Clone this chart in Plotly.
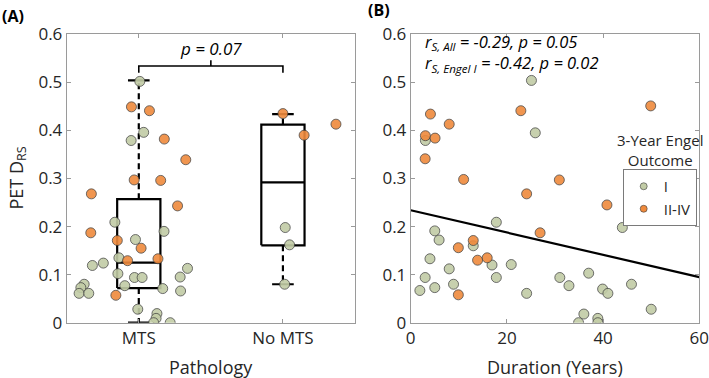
import plotly.graph_objects as go
import numpy as np

# ---------------- Data ----------------
# Panel A: jittered category positions (1 = MTS, 2 = No MTS) and PET D_RS values
a_green_x = [1.007, 1.034, 0.947, 0.834, 1.175, 0.977, 0.862, 0.855, 0.970, 1.023, 0.903, 1.166,
             0.754, 0.678, 0.621, 0.598, 0.586, 0.653, 0.993, 1.126, 1.120, 1.103, 1.218, 1.287,
             1.338, 1.290,
             2.016, 2.046, 2.012]
a_green_y = [0.502, 0.396, 0.379, 0.209, 0.190, 0.173, 0.135, 0.102, 0.094, 0.094, 0.077, 0.071,
             0.124, 0.119, 0.080, 0.073, 0.061, 0.061, 0.028, 0.019, 0.009, 0.0, 0.0, 0.095,
             0.113, 0.066,
             0.198, 0.162, 0.080]
a_orange_x = [0.949, 1.074, 1.177, 1.326, 0.968, 1.152, 0.671, 1.269, 0.667, 0.851, 1.016, 0.922,
              1.133, 0.841,
              2.000, 2.147, 2.368]
a_orange_y = [0.449, 0.441, 0.382, 0.339, 0.297, 0.296, 0.268, 0.243, 0.187, 0.171, 0.155, 0.129,
              0.133, 0.057,
              0.435, 0.390, 0.413]

# Box statistics per category
box_pos = [1, 2]
box_labels = ["MTS", "No MTS"]
box_q1 = [0.072, 0.161]
box_med = [0.125, 0.292]
box_q3 = [0.257, 0.412]
box_lo = [0.0, 0.080]
box_hi = [0.504, 0.434]

# Significance bracket
bracket_text = "p = 0.07"
bracket_y = 0.534

# Panel B: duration (years) vs PET D_RS
b_green_x = [25.1, 25.9, 3.05, 17.8, 5.0, 5.9, 13.0, 44.0, 4.0, 8.0, 3.0, 5.0, 1.9, 8.9, 16.9,
             17.8, 20.9, 24.1, 31.0, 32.9, 37.0, 39.9, 41.0, 45.9, 50.0, 36.0, 38.9, 34.9, 38.9]
b_green_y = [0.504, 0.395, 0.379, 0.209, 0.191, 0.172, 0.160, 0.198, 0.133, 0.112, 0.094, 0.073,
             0.067, 0.080, 0.120, 0.094, 0.121, 0.061, 0.094, 0.077, 0.103, 0.070, 0.061, 0.080,
             0.028, 0.018, 0.009, 0.0, 0.0]
b_orange_x = [49.9, 22.9, 4.1, 8.0, 3.05, 5.06, 3.0, 11.0, 30.9, 24.1, 40.8, 26.9, 13.0, 9.9,
              13.9, 15.9, 9.9]
b_orange_y = [0.451, 0.441, 0.434, 0.413, 0.389, 0.384, 0.341, 0.298, 0.297, 0.268, 0.245, 0.187,
              0.171, 0.156, 0.130, 0.135, 0.058]

fit_intercept = 0.234
fit_slope = -0.00232
fit_range = [0, 60]

y_ticks = [0, 0.1, 0.2, 0.3, 0.4, 0.5, 0.6]
y_ticklabels = ["0", "0.1", "0.2", "0.3", "0.4", "0.5", "0.6"]
b_x_ticks = [0, 20, 40, 60]

legend_labels = ["I", "II-IV"]

# ---------------- Style ----------------
GREEN = "#c2cca6"
ORANGE = "#ef8a3c"
EDGE = "#3a3a3a"
FONT = "Open Sans"
AX = "#9a9a9a"
TXT = "#262626"

fig = go.Figure()

def marker(color):
    return dict(size=10, color=color, opacity=0.9, line=dict(color=EDGE, width=0.8))

# ---- Panel A: box lines ----
bw = 0.15
cw = 0.075
for i, p in enumerate(box_pos):
    fig.add_trace(go.Scatter(
        x=[p - bw, p + bw, p + bw, p - bw, p - bw],
        y=[box_q1[i], box_q1[i], box_q3[i], box_q3[i], box_q1[i]],
        mode="lines", line=dict(color="black", width=2.2), showlegend=False,
        hoverinfo="skip", xaxis="x", yaxis="y"))
    fig.add_trace(go.Scatter(
        x=[p - bw, p + bw], y=[box_med[i], box_med[i]],
        mode="lines", line=dict(color="black", width=2.2), showlegend=False,
        hoverinfo="skip", xaxis="x", yaxis="y"))
    fig.add_trace(go.Scatter(
        x=[p, p, None, p, p], y=[box_q3[i], box_hi[i], None, box_q1[i], box_lo[i]],
        mode="lines", line=dict(color="black", width=2.2, dash="6px,4px"), showlegend=False,
        hoverinfo="skip", xaxis="x", yaxis="y"))
    fig.add_trace(go.Scatter(
        x=[p - cw, p + cw, None, p - cw, p + cw],
        y=[box_hi[i], box_hi[i], None, box_lo[i], box_lo[i]],
        mode="lines", line=dict(color="black", width=2.2), showlegend=False,
        hoverinfo="skip", xaxis="x", yaxis="y"))

# bracket
mid = (box_pos[0] + box_pos[1]) / 2
fig.add_trace(go.Scatter(
    x=[box_pos[0], box_pos[0], box_pos[1], box_pos[1], None, mid, mid],
    y=[bracket_y - 0.014, bracket_y, bracket_y, bracket_y - 0.014, None,
       bracket_y, bracket_y + 0.012],
    mode="lines", line=dict(color="black", width=1.6), showlegend=False,
    hoverinfo="skip", xaxis="x", yaxis="y"))

# points A
fig.add_trace(go.Scatter(x=a_green_x, y=a_green_y, mode="markers", marker=marker(GREEN),
                         showlegend=False, xaxis="x", yaxis="y"))
fig.add_trace(go.Scatter(x=a_orange_x, y=a_orange_y, mode="markers", marker=marker(ORANGE),
                         showlegend=False, xaxis="x", yaxis="y"))

# ---- Panel B ----
fx = np.array(fit_range, dtype=float)
fig.add_trace(go.Scatter(x=fx, y=fit_intercept + fit_slope * fx, mode="lines",
                         line=dict(color="black", width=2.2), showlegend=False,
                         hoverinfo="skip", xaxis="x2", yaxis="y2"))
fig.add_trace(go.Scatter(x=b_green_x, y=b_green_y, mode="markers", marker=marker(GREEN),
                         showlegend=False, xaxis="x2", yaxis="y2"))
fig.add_trace(go.Scatter(x=b_orange_x, y=b_orange_y, mode="markers", marker=marker(ORANGE),
                         showlegend=False, xaxis="x2", yaxis="y2"))
for lab, col in zip(legend_labels, [GREEN, ORANGE]):
    fig.add_trace(go.Scatter(x=[None], y=[None], mode="markers", name=lab,
                             marker=dict(size=7, color=col, line=dict(color=EDGE, width=0.6)),
                             xaxis="x2", yaxis="y2"))

axis_common = dict(showline=True, linecolor=AX, linewidth=1, mirror="ticks",
                   ticks="inside", ticklen=4, tickcolor=AX, showgrid=False, zeroline=False,
                   automargin=False, ticklabeloverflow="allow",
                   tickfont=dict(family=FONT, size=17, color=TXT))

ydom = [0.1463, 0.9093]
fig.update_layout(
    width=709, height=378, autosize=False,
    margin=dict(l=0, r=0, t=0, b=0, pad=0),
    paper_bgcolor="white", plot_bgcolor="white",
    xaxis=dict(domain=[0.0941, 0.5007], range=[0.5, 2.5], tickvals=box_pos,
               ticktext=box_labels, anchor="y", **axis_common),
    yaxis=dict(domain=ydom, range=[0, 0.6], tickvals=y_ticks, ticktext=y_ticklabels,
               anchor="x", **axis_common),
    xaxis2=dict(domain=[0.5793, 0.9863], range=[0, 60], tickvals=b_x_ticks,
                anchor="y2", **axis_common),
    yaxis2=dict(domain=ydom, range=[0, 0.6], tickvals=y_ticks, ticktext=y_ticklabels,
                anchor="x2", **axis_common),
    legend=dict(x=622.7 / 709, y=(378 - 169) / 378, xanchor="left", yanchor="top",
                bordercolor="#7a7a7a", borderwidth=1, bgcolor="white",
                font=dict(family=FONT, size=15, color=TXT), itemwidth=30,
                tracegroupgap=0),
    showlegend=True,
)

ann = []
ann.append(dict(text="<b>(A)</b>", x=0, y=1 - 16 / 378, xref="paper", yref="paper",
                xanchor="left", yanchor="middle", showarrow=False,
                font=dict(family=FONT, size=16, color="black")))
ann.append(dict(text="<b>(B)</b>", x=366 / 709, y=1 - 10 / 378, xref="paper", yref="paper",
                xanchor="left", yanchor="middle", showarrow=False,
                font=dict(family=FONT, size=16, color="black")))
ann.append(dict(text="PET D<sub>RS</sub>", x=17 / 709, y=(ydom[0] + ydom[1]) / 2, xref="paper",
                yref="paper", textangle=-90, xanchor="center", yanchor="middle", showarrow=False,
                font=dict(family=FONT, size=18, color=TXT)))
ann.append(dict(text="Pathology", x=mid, xref="x", y=1 - 367 / 378, yref="paper",
                xanchor="center", yanchor="middle", showarrow=False,
                font=dict(family=FONT, size=18, color=TXT)))
ann.append(dict(text="Duration (Years)", x=30, xref="x2", y=1 - 367 / 378, yref="paper",
                xanchor="center", yanchor="middle", showarrow=False,
                font=dict(family=FONT, size=18, color=TXT)))
ann.append(dict(text="<i>" + bracket_text + "</i>", x=mid, y=0.571, xref="x", yref="y",
                xanchor="center", yanchor="middle", showarrow=False,
                font=dict(family=FONT, size=17, color="black")))
ann.append(dict(text="<i>r<sub>S, All</sub> = -0.29, p = 0.05</i><br>"
                     "<i>r<sub>S, Engel I</sub> = -0.42, p = 0.02</i>",
                x=423 / 709, y=1 - 53 / 378, xref="paper", yref="paper",
                xanchor="left", yanchor="middle", align="left",
                showarrow=False, font=dict(family=FONT, size=16.5, color="black")))
ann.append(dict(text="3-Year Engel<br>Outcome", x=660 / 709, y=1 - 150 / 378, xref="paper",
                yref="paper", xanchor="center", yanchor="middle", showarrow=False,
                font=dict(family=FONT, size=15, color=TXT)))
fig.update_layout(annotations=ann)

fig.write_html("out.html", config={"displayModeBar": False},
               post_script="document.body.style.margin='0';document.body.style.overflow='hidden';")
